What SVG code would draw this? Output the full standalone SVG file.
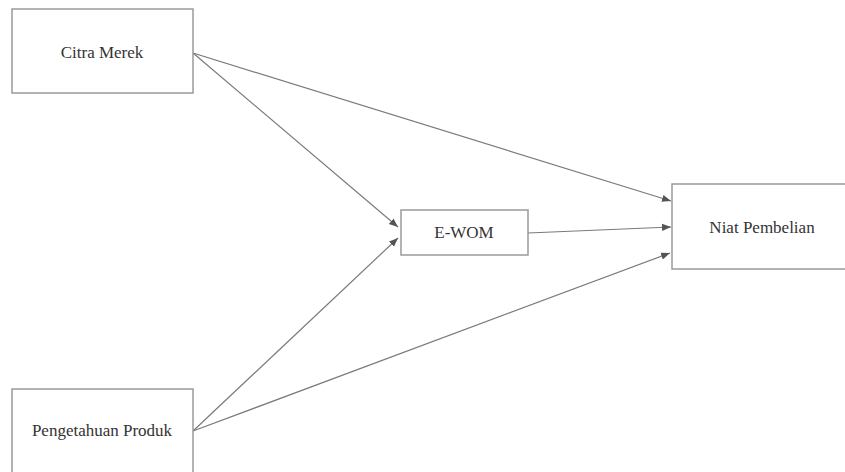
<svg xmlns="http://www.w3.org/2000/svg" width="845" height="472" viewBox="0 0 845 472">
<style>
.box{fill:#fff;stroke:#9a9a9a;stroke-width:1.5}
.lbl{font-family:"Liberation Serif","Times New Roman","DejaVu Serif",serif;font-size:17px;fill:#333;text-anchor:middle}
.edge{stroke:#7a7a7a;stroke-width:1.2;fill:none;marker-end:url(#ah)}
</style>
<defs>
<marker id="ah" viewBox="0 0 10 10" refX="10" refY="5" markerWidth="9" markerHeight="9" markerUnits="userSpaceOnUse" orient="auto">
<path d="M0,1 L10,5 L0,9 Z" fill="#555"/>
</marker>
</defs>
<rect width="845" height="472" fill="#fff"/>
<g id="connectors">
<line class="edge" x1="193" y1="53" x2="671" y2="201"/>
<line class="edge" x1="193" y1="53" x2="398" y2="227"/>
<line class="edge" x1="193" y1="431" x2="398" y2="238"/>
<line class="edge" x1="193" y1="431" x2="670" y2="253"/>
<line class="edge" x1="528" y1="233" x2="671" y2="227"/>
</g>
<g id="citra-merek">
<rect class="box" x="12" y="9" width="181" height="84"/>
<text class="lbl" x="102" y="58">Citra Merek</text>
</g>
<g id="pengetahuan-produk">
<rect class="box" x="12" y="389" width="181" height="90"/>
<text class="lbl" x="102" y="436">Pengetahuan Produk</text>
</g>
<g id="e-wom">
<rect class="box" x="401" y="210" width="127" height="45"/>
<text class="lbl" x="464" y="238">E-WOM</text>
</g>
<g id="niat-pembelian">
<rect class="box" x="672" y="184" width="180" height="85"/>
<text class="lbl" x="762" y="233">Niat Pembelian</text>
</g>
</svg>
